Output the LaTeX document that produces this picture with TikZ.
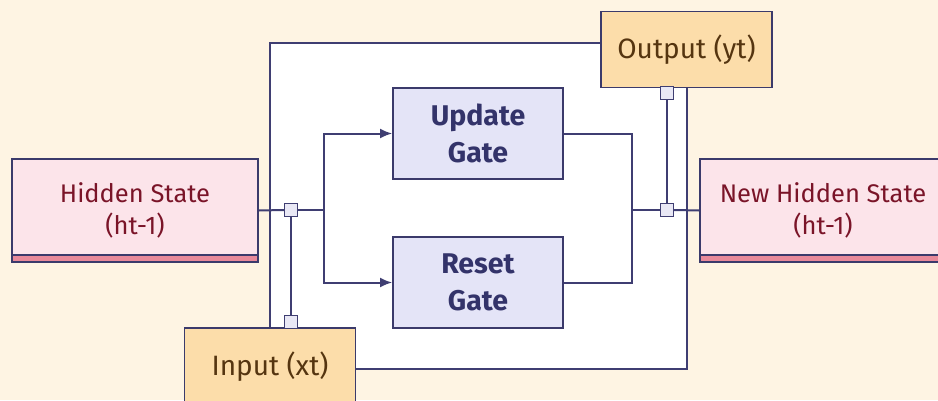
\documentclass[tikz,border=0pt]{standalone}
\usepackage{fontspec}
\setmainfont{Fira Sans}
\usetikzlibrary{arrows.meta,calc}
\definecolor{bgcream}{HTML}{FEF4E3}
\definecolor{navy}{HTML}{3B3A6B}
\definecolor{linecol}{HTML}{3F3E72}
\definecolor{pinkfill}{HTML}{FCE4EA}
\definecolor{barpink}{HTML}{E8899A}
\definecolor{darkred}{HTML}{7A1428}
\definecolor{gatefill}{HTML}{E4E4F7}
\definecolor{gatetext}{HTML}{33336A}
\definecolor{iofill}{HTML}{FCDDAA}
\definecolor{iotext}{HTML}{553510}
\definecolor{juncfill}{HTML}{E9E8F5}
\begin{document}
\begin{tikzpicture}[x=1pt,y=-1pt,
  statebox/.style={draw=navy, line width=1.8pt, fill=pinkfill, minimum width=246pt,
    minimum height=103pt, inner sep=0pt, align=center, text=darkred,
    font=\fontsize{25.5}{35}\selectfont,
    path picture={
      \fill[barpink] ([yshift=7pt]path picture bounding box.south west) rectangle (path picture bounding box.south east);
      \draw[navy, line width=1.4pt] ([yshift=7pt]path picture bounding box.south west) -- ([yshift=7pt]path picture bounding box.south east);
    }},
  gatebox/.style={draw=navy, line width=1.8pt, fill=gatefill, minimum width=170pt,
    minimum height=91pt, inner sep=0pt, align=center, text=gatetext,
    font=\fontsize{28.5}{37}\selectfont\bfseries},
  iobox/.style={draw=navy, line width=1.8pt, fill=iofill, minimum width=171pt,
    minimum height=76pt, inner sep=0pt, align=center, text=iotext,
    font=\fontsize{28}{30}\selectfont},
  junc/.style={draw=linecol, fill=juncfill, line width=1.3pt, minimum size=13pt, inner sep=0pt},
  conn/.style={draw=linecol, line width=2pt},
  arr/.style={conn, -{Latex[length=12pt,width=10pt]}}
]
\useasboundingbox (0,0) rectangle (938,400);
\fill[bgcream] (0,0) rectangle (938,400);
\fill[white] (270,43) rectangle (686,370);

\node[statebox] (hidden) at (135,210.5) {Hidden State\\[-3pt](ht-1)};
\node[statebox] (newhidden) at (823,210.5) {New Hidden State\\[-3pt](ht-1)};
\node[gatebox] (update) at (478,133.5) {Update\\Gate};
\node[gatebox] (reset) at (478,282.5) {Reset\\Gate};
\node[iobox] (output) at (686.5,49.5) {Output (yt)};
\node[iobox, minimum height=78pt] (input) at (270,367) {Input (xt)};

\node[junc] (j1) at (291,210) {};
\node[junc] (j2) at (291,322) {};
\node[junc] (j3) at (667,93) {};
\node[junc] (j4) at (667,210) {};

\coordinate (split) at (324,210);
\coordinate (merge) at (632,210);
\coordinate (topline) at (0,43);
\coordinate (botline) at (0,369);

% frame
\draw[conn] (input.north) |- (output.west |- topline);
\draw[conn] (input.east |- botline) -| (output.south);

% inputs to gates
\draw[conn] (hidden.east) -- (j1.west);
\draw[conn] (j1.east) -- (split);
\draw[conn] (j1.south) -- (j2.north);
\draw[arr] (split) |- (update.west);
\draw[arr] (split) |- (reset.west);

% gates to new state
\draw[conn] (update.east) -| (merge);
\draw[conn] (reset.east) -| (merge);
\draw[conn] (merge) -- (j4.west);
\draw[conn] (j4.east) -- (newhidden.west);
\draw[conn] (j3.south) -- (j4.north);
\end{tikzpicture}
\end{document}
